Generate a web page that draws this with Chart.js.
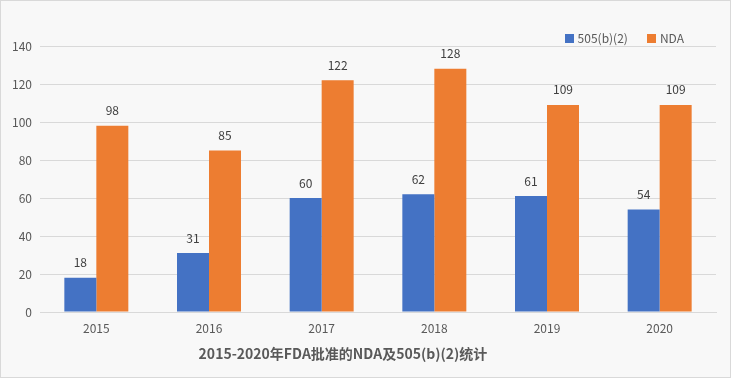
<!DOCTYPE html>
<html lang="zh">
<head>
    <meta charset="UTF-8">
    <title>2015-2020年FDA批准的NDA及505(b)(2)统计</title>
    <style>
        body {
            margin: 0;
            padding: 0;
            font-family: 'Noto Sans CJK SC', 'Noto Sans', sans-serif;
        }

        .frame {
            position: relative;
            width: 731px;
            height: 378px;
            box-sizing: border-box;
            border: 1px solid #d9d9d9;
            background: #f8f8f8;
        }

        #chartBox {
            position: absolute;
            left: 0;
            top: 0;
            width: 729px;
            height: 376px;
        }

        .legend {
            position: absolute;
            top: 28px;
            right: 46px;
            display: flex;
            font-size: 12px;
            color: #595959;
            line-height: 18px;
        }

        .legend-item {
            display: flex;
            align-items: center;
            margin-left: 19px;
        }

        .legend-item span.box {
            display: inline-block;
            width: 9px;
            height: 9px;
            margin-right: 4px;
        }

        .title {
            position: absolute;
            top: 342px;
            left: 0;
            width: 684px;
            text-align: center;
            font-size: 14px;
            font-weight: bold;
            color: #595959;
            line-height: 20px;
        }
    </style>
</head>
<body>
    <div class="frame">
        <div id="chartBox"><canvas id="fdaChart"></canvas></div>
        <div class="legend" id="legend"></div>
        <div class="title">2015-2020年FDA批准的NDA及505(b)(2)统计</div>
    </div>

    <script src="https://cdn.jsdelivr.net/npm/chart.js"></script>
    <script>
        // données
        const years = ['2015', '2016', '2017', '2018', '2019', '2020'];
        const approvals505b2 = [18, 31, 60, 62, 61, 54];
        const approvalsNDA = [98, 85, 122, 128, 109, 109];
        const yTicks = [0, 20, 40, 60, 80, 100, 120, 140];

        const blue = '#4472C4';
        const orange = '#ED7D31';

        Chart.defaults.font.family = "'Noto Sans CJK SC', 'Noto Sans', sans-serif";
        Chart.defaults.font.size = 12;
        Chart.defaults.color = '#595959';

        // étiquettes au-dessus des barres
        const barLabels = {
            id: 'barLabels',
            afterDatasetsDraw(chart) {
                const ctx = chart.ctx;
                ctx.save();
                ctx.font = "12px 'Noto Sans CJK SC', sans-serif";
                ctx.fillStyle = '#404040';
                ctx.textAlign = 'center';
                ctx.textBaseline = 'middle';
                chart.data.datasets.forEach((ds, i) => {
                    chart.getDatasetMeta(i).data.forEach((bar, j) => {
                        ctx.fillText(ds.data[j], bar.x, bar.y - 15);
                    });
                });
                ctx.restore();
            }
        };

        const chart = new Chart(document.getElementById('fdaChart'), {
            type: 'bar',
            data: {
                labels: years,
                datasets: [
                    { label: '505(b)(2)', data: approvals505b2, backgroundColor: blue },
                    { label: 'NDA', data: approvalsNDA, backgroundColor: orange }
                ]
            },
            options: {
                responsive: true,
                maintainAspectRatio: false,
                animation: false,
                layout: { padding: { top: 45, right: 14, left: 0, bottom: 0 } },
                datasets: {
                    bar: { categoryPercentage: 0.568, barPercentage: 1.0 }
                },
                plugins: {
                    legend: { display: false },
                    tooltip: { enabled: false }
                },
                scales: {
                    x: {
                        grid: { display: false, drawTicks: false },
                        border: { color: '#d9d9d9' },
                        ticks: { padding: 9, color: '#595959' },
                        afterFit(scale) { scale.height = 65; }
                    },
                    y: {
                        min: 0,
                        max: 140,
                        afterBuildTicks(scale) { scale.ticks = yTicks.map(v => ({ value: v })); },
                        grid: { color: '#d9d9d9', drawTicks: false },
                        border: { display: false },
                        ticks: { padding: 8, color: '#595959' },
                        afterFit(scale) { scale.width = 39; }
                    }
                }
            },
            plugins: [barLabels]
        });

        // légende HTML
        const legend = document.getElementById('legend');
        chart.data.datasets.forEach(ds => {
            const item = document.createElement('div');
            item.className = 'legend-item';
            item.innerHTML = '<span class="box" style="background:' + ds.backgroundColor + '"></span>' + ds.label;
            legend.appendChild(item);
        });
    </script>
</body>
</html>
